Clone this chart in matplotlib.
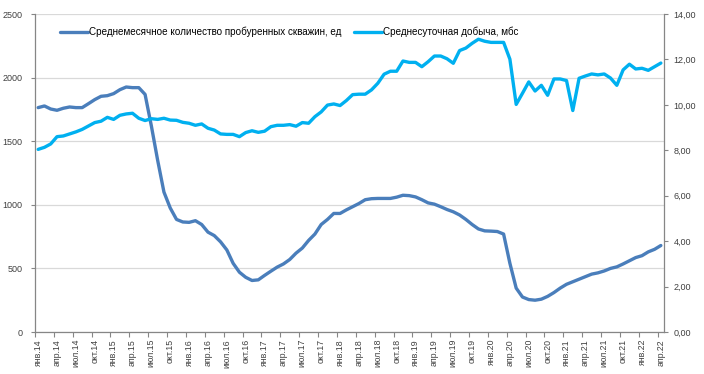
import matplotlib
matplotlib.use("Agg")
import matplotlib.pyplot as plt
import numpy as np

plt.rcParams['font.family'] = ['Liberation Sans', 'DejaVu Sans']

# months jan.14 .. apr.22
month_names = ["янв", "фев", "мар", "апр", "май", "июн",
               "июл", "авг", "сен", "окт", "ноя", "дек"]
years = ["14", "15", "16", "17", "18", "19", "20", "21", "22"]
months = [m + "." + y for y in years for m in month_names][:100]

# среднемесячное количество пробуренных скважин, ед (left axis)
wells = [1764, 1777, 1753, 1743, 1759, 1769, 1764, 1764, 1795, 1827,
         1853, 1858, 1874, 1905, 1926, 1921, 1921, 1868, 1620, 1350,
         1100, 975, 885, 865, 862, 875, 845, 785, 758, 709,
         645, 540, 470, 430, 405, 410, 445, 478, 510, 535,
         570, 620, 660, 720, 770, 845, 885, 932, 932, 960,
         985, 1010, 1040, 1048, 1050, 1050, 1050, 1060, 1075, 1072,
         1062, 1040, 1015, 1005, 985, 963, 945, 920, 885, 845,
         810, 795, 793, 790, 770, 540, 345, 275, 255, 250,
         258, 280, 310, 345, 375, 395, 415, 435, 455, 465,
         480, 500, 512, 535, 560, 585, 600, 630, 650, 680]

# среднесуточная добыча, мбс (right axis)
production = [8.04, 8.13, 8.28, 8.60, 8.63, 8.72, 8.81, 8.92, 9.07, 9.22,
              9.28, 9.45, 9.36, 9.54, 9.60, 9.63, 9.41, 9.31, 9.39, 9.36,
              9.41, 9.33, 9.32, 9.23, 9.19, 9.10, 9.16, 8.97, 8.89, 8.72,
              8.70, 8.70, 8.60, 8.78, 8.86, 8.79, 8.84, 9.04, 9.10, 9.10,
              9.13, 9.06, 9.22, 9.19, 9.48, 9.69, 9.99, 10.04, 9.97, 10.19,
              10.45, 10.47, 10.47, 10.66, 10.95, 11.35, 11.48, 11.48, 11.93, 11.87,
              11.87, 11.68, 11.90, 12.15, 12.15, 12.03, 11.83, 12.39, 12.50, 12.71,
              12.89, 12.80, 12.75, 12.75, 12.75, 12.01, 10.02, 10.51, 11.01, 10.61,
              10.86, 10.42, 11.14, 11.14, 11.07, 9.75, 11.17, 11.27, 11.36, 11.32,
              11.36, 11.18, 10.86, 11.54, 11.79, 11.58, 11.61, 11.52, 11.68, 11.84]

label_wells = "Среднемесячное количество пробуренных скважин, ед"
label_prod = "Среднесуточная добыча, мбс"

axis_col = "#868686"
text_col = "#404040"

fig = plt.figure(figsize=(7.04, 3.74), dpi=100)
ax = fig.add_axes([35 / 704, 1 - 332 / 374, 629 / 704, 318 / 374])
ax2 = ax.twinx()

x = np.arange(len(months))
l1, = ax.plot(x, wells, color="#4A7EBB", lw=2.4, solid_joinstyle="round",
              solid_capstyle="round")
l2, = ax2.plot(x, production, color="#00B0F0", lw=2.4, solid_joinstyle="round",
               solid_capstyle="round")

ax.set_xlim(-0.5, len(months) - 0.5)
ax.set_ylim(0, 2500)
ax.set_yticks(np.arange(0, 2501, 500))
ax2.set_ylim(0, 14)
ax2.set_yticks(np.arange(0, 14.01, 2))
ax2.set_yticklabels([("%.2f" % v).replace(".", ",") for v in np.arange(0, 14.01, 2)])

ax.grid(axis="y", color="#D9D9D9", lw=0.9)
ax.set_axisbelow(True)

# ticks at category boundaries, labels at category centres
ax.set_xticks(np.arange(-0.5, len(months), 3))
ax.set_xticklabels([])
ax.set_xticks(x[::3], minor=True)
ax.set_xticklabels(months[::3], minor=True, rotation=90, fontsize=6.3, color=text_col)
ax.tick_params(axis="x", which="major", length=3.5, color=axis_col, direction="out")
ax.tick_params(axis="x", which="minor", length=0, pad=5)
ax.tick_params(axis="y", length=3, color=axis_col, labelsize=6.5, labelcolor=text_col, pad=6)
ax2.tick_params(axis="y", length=3, color=axis_col, labelsize=6.5, labelcolor=text_col, pad=4)

for a in (ax, ax2):
    a.spines["top"].set_visible(False)
    for s in ("left", "right", "bottom"):
        a.spines[s].set_color(axis_col)
        a.spines[s].set_linewidth(0.9)
ax.spines["right"].set_visible(False)
ax2.spines["left"].set_visible(False)
ax2.spines["bottom"].set_visible(False)

fig.legend([l1, l2], [label_wells, label_prod], loc="center left",
           bbox_to_anchor=(56 / 704, 1 - 32 / 374), ncol=2, frameon=False,
           fontsize=7.1, handlelength=2.8, handletextpad=0.12, columnspacing=1.3,
           labelcolor="#000000", borderaxespad=0)

fig.savefig("out.png", dpi=100)
